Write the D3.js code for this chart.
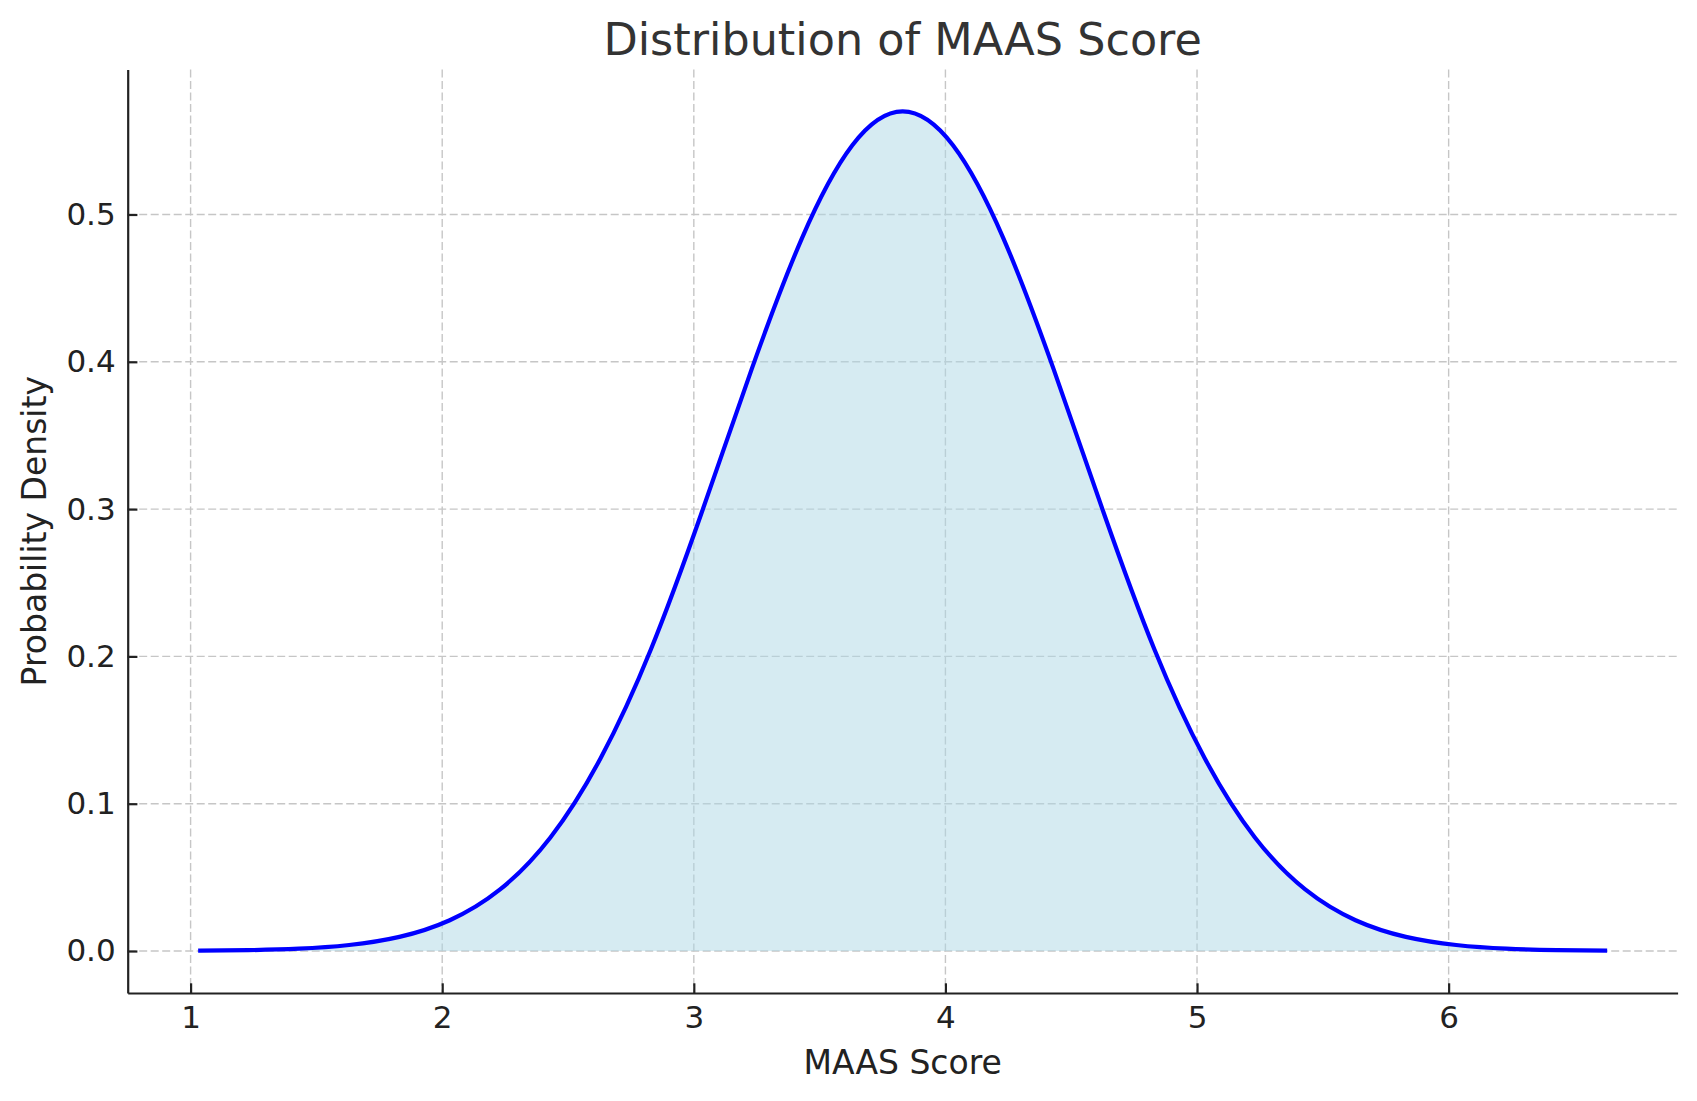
<!DOCTYPE html>
<html>
<head>
<meta charset="utf-8">
<script src="https://cdn.jsdelivr.net/npm/d3@7"></script>
<style>
  body { margin: 0; background: #fff; }
  svg text { font-family: "DejaVu Sans", sans-serif; }
</style>
</head>
<body>
<svg id="chart" width="1697" height="1101"></svg>
<script>
// density curve
var scoreX = [1.03, 1.23, 1.43, 1.63, 1.83, 2.03, 2.23, 2.43, 2.63, 2.83, 3.03, 3.23, 3.43, 3.63,
              3.83, 4.03, 4.23, 4.43, 4.63, 4.83, 5.03, 5.23, 5.43, 5.63, 5.83, 6.03, 6.23, 6.43, 6.63];
var densityY = [0.0002, 0.0006, 0.0016, 0.0041, 0.0096, 0.0209, 0.0418, 0.0771, 0.131, 0.205, 0.297, 0.395, 0.484, 0.547,
                0.570, 0.547, 0.484, 0.395, 0.297, 0.205, 0.131, 0.0771, 0.0418, 0.0209, 0.0096, 0.0041, 0.0016, 0.0006, 0.0002];
var xTicks = [1, 2, 3, 4, 5, 6];
var yTicks = [0.0, 0.1, 0.2, 0.3, 0.4, 0.5];

var titleText = "Distribution of MAAS Score";
var xLabel = "MAAS Score";
var yLabel = "Probability Density";

var W = 1697, H = 1101;
var m = {top: 69.4, right: 19.4, bottom: 108, left: 127.7};
var w = W - m.left - m.right, h = H - m.top - m.bottom;

var svg = d3.select('#chart');
var g = svg.append('g').attr('transform', 'translate(' + m.left + ',' + m.top + ')');

var pts = scoreX.map(function(x, i) { return {x: x, y: densityY[i]}; });

// matplotlib style 5% margins
var xr = d3.max(scoreX) - d3.min(scoreX), yr = d3.max(densityY);
var xscale = d3.scaleLinear().domain([d3.min(scoreX) - 0.05 * xr, d3.max(scoreX) + 0.05 * xr]).range([0, w]);
var yscale = d3.scaleLinear().domain([-0.05 * yr, yr * 1.05]).range([h, 0]);

// grid
g.selectAll('line.vgrid').data(xTicks).enter().append('line')
  .attr('x1', function(d) { return xscale(d); }).attr('x2', function(d) { return xscale(d); })
  .attr('y1', 0).attr('y2', h)
  .style('stroke', '#c6c6c6').style('stroke-width', 1.4).style('stroke-dasharray', '8,3.5');
g.selectAll('line.hgrid').data(yTicks).enter().append('line')
  .attr('y1', function(d) { return yscale(d); }).attr('y2', function(d) { return yscale(d); })
  .attr('x1', 0).attr('x2', w)
  .style('stroke', '#c6c6c6').style('stroke-width', 1.4).style('stroke-dasharray', '8,3.5');

// fill + line
var area = d3.area().curve(d3.curveNatural)
  .x(function(d) { return xscale(d.x); })
  .y0(yscale(0))
  .y1(function(d) { return yscale(d.y); });
g.append('path').datum(pts).attr('d', area)
  .style('fill', 'lightblue').style('fill-opacity', 0.5);

var line = d3.line().curve(d3.curveNatural)
  .x(function(d) { return xscale(d.x); })
  .y(function(d) { return yscale(d.y); });
g.append('path').datum(pts).attr('d', line)
  .style('fill', 'none').style('stroke', '#0000ff').style('stroke-width', 4.2);

// axes, ticks pointing inward
var xAxis = d3.axisBottom(xscale).tickValues(xTicks).tickFormat(d3.format('d'))
  .tickSizeInner(-9.7).tickSizeOuter(0).tickPadding(13);
var yAxis = d3.axisLeft(yscale).tickValues(yTicks).tickFormat(d3.format('.1f'))
  .tickSizeInner(-9.7).tickSizeOuter(0).tickPadding(12);

var gx = g.append('g').attr('transform', 'translate(0,' + h + ')').call(xAxis);
var gy = g.append('g').call(yAxis);
[gx, gy].forEach(function(ax) {
  ax.select('.domain').style('stroke', '#222').style('stroke-width', 2.2);
  ax.selectAll('.tick line').style('stroke', '#222').style('stroke-width', 2.2);
  ax.selectAll('.tick text').style('font-size', '31px').style('fill', '#222');
});
gx.selectAll('.tick text').attr('dy', '0.71em');

// titles
svg.append('text').attr('x', m.left + w / 2).attr('y', 39).attr('dy', '0.35em')
  .attr('text-anchor', 'middle').style('font-size', '44.5px').style('fill', '#333')
  .text(titleText);
svg.append('text').attr('x', m.left + w / 2).attr('y', 1062).attr('dy', '0.35em')
  .attr('text-anchor', 'middle').style('font-size', '33px').style('fill', '#222')
  .text(xLabel);
svg.append('text').attr('transform', 'translate(34.6,' + (m.top + h / 2) + ') rotate(-90)')
  .attr('dy', '0.35em').attr('text-anchor', 'middle').style('font-size', '33px').style('fill', '#222')
  .text(yLabel);
</script>
</body>
</html>
